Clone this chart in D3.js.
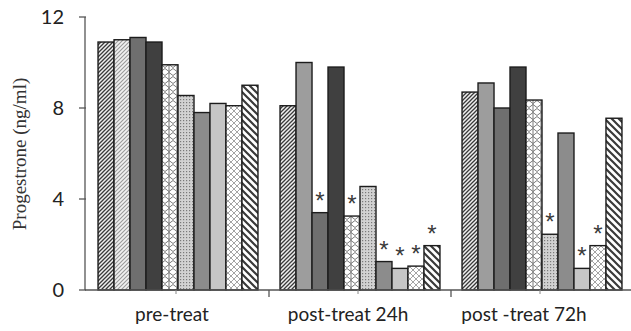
<!DOCTYPE html>
<html><head><meta charset="utf-8">
<script src="https://cdn.jsdelivr.net/npm/d3@7/dist/d3.min.js"></script>
<style>body{margin:0;background:#fff}svg{display:block}</style>
</head><body>
<script>
const groups = ["pre-treat", "post-treat 24h", "post -treat 72h"];
const seriesNames = ["S1","S2","S3","S4","S5","S6","S7","S8","S9","S10"];
const valuesPre  = [10.9, 11.0, 11.1, 10.9, 9.9, 8.55, 7.8, 8.2, 8.1, 9.0];
const values24h  = [8.1, 10.0, 3.4, 9.8, 3.25, 4.55, 1.25, 0.95, 1.05, 1.95];
const values72h  = [8.7, 9.1, 8.0, 9.8, 8.35, 2.45, 6.9, 0.95, 1.95, 7.55];
const sig24h = [false,false,true,false,true,false,true,true,true,true];
const sig72h = [false,false,false,false,false,true,false,true,true,false];
const sigPre = [false,false,false,false,false,false,false,false,false,false];
const yTicks = [0, 4, 8, 12];

const allValues = [valuesPre, values24h, values72h];
const allSig = [sigPre, sig24h, sig72h];

const W = 631, H = 331;
const svg = d3.select("body").append("svg").attr("width", W).attr("height", H);
const defs = svg.append("defs");

function pat(id, w, h, bg, draw){
  const p = defs.append("pattern").attr("id", id).attr("patternUnits","userSpaceOnUse")
    .attr("width", w).attr("height", h);
  p.append("rect").attr("width", w).attr("height", h).attr("fill", bg);
  draw(p);
}
pat("p1", 4, 4, "#f0f0f0", p => {
  p.append("path").attr("d","M-1,1 L1,-1 M0,4 L4,0 M3,5 L5,3").attr("stroke","#3a3a3a").attr("stroke-width",1.3);
});
pat("p2", 4, 4, "#f2f2f2", p => {
  p.append("path").attr("d","M-1,1 L1,-1 M0,4 L4,0 M3,5 L5,3").attr("stroke","#9a9a9a").attr("stroke-width",1.1);
});
pat("p5", 8, 8, "#ffffff", p => {
  p.append("path").attr("d","M0,2 Q2,-1 4,2 T8,2 M0,6 Q2,9 4,6 T8,6 M2,0 L2,8")
    .attr("fill","none").attr("stroke","#6a6a6a").attr("stroke-width",0.9);
});
pat("p6", 3, 3, "#d2d2d2", p => {
  p.append("rect").attr("width",1.2).attr("height",1.2).attr("fill","#7a7a7a");
});
pat("p9", 6, 6, "#ffffff", p => {
  p.append("path").attr("d","M0,0 L6,6 M6,0 L0,6 M-1,5 L1,7 M5,-1 L7,1 M-1,1 L1,-1 M5,7 L7,5")
    .attr("stroke","#9a9a9a").attr("stroke-width",0.9);
});
pat("p10", 7, 7, "#ffffff", p => {
  p.append("path").attr("d","M-1,-1 L8,8 M-1,6 L1,8 M6,-1 L8,1").attr("stroke","#3a3a3a").attr("stroke-width",2.2);
});

const fills = ["url(#p1)","url(#p2)","#6f6f6f","#404040","url(#p5)","url(#p6)","#8c8c8c","#c6c6c6","url(#p9)","url(#p10)"];
function fillFor(gi, si){
  if (si === 1 && gi > 0) return "#9d9d9d";
  return fills[si];
}

const y = d3.scaleLinear().domain([0, 12]).range([290, 17]);
const x0 = d3.scaleBand().domain(groups).range([87, 633]).padding(0);
const x1 = d3.scaleBand().domain(seriesNames).range([0, x0.bandwidth()]).paddingInner(0).paddingOuter(0.69);
const xLab = d3.scaleBand().domain(groups).range([84, 612]);

// bars
groups.forEach((g, gi) => {
  const gg = svg.append("g").attr("transform", `translate(${x0(g)},0)`);
  const data = allValues[gi].map((v, si) => ({v, si, sig: allSig[gi][si]}));
  gg.selectAll("rect").data(data).join("rect")
    .attr("x", d => x1(seriesNames[d.si]))
    .attr("y", d => y(d.v))
    .attr("width", x1.bandwidth())
    .attr("height", d => y(0) - y(d.v))
    .attr("fill", d => fillFor(gi, d.si))
    .attr("stroke", "#1c1c1c").attr("stroke-width", 1.4);
  gg.selectAll("text.star").data(data.filter(d => d.sig)).join("text")
    .attr("class","star")
    .attr("x", d => x1(seriesNames[d.si]) + x1.bandwidth()/2)
    .attr("y", d => y(d.v) - 4)
    .attr("text-anchor","middle")
    .attr("font-family","Liberation Sans, sans-serif")
    .attr("font-size", 24)
    .attr("fill","#3a3a3a")
    .text("*");
});

// y axis
svg.append("line").attr("x1",85).attr("x2",85).attr("y1",y(12)).attr("y2",y(0))
  .attr("stroke","#555").attr("stroke-width",1.3);
svg.selectAll("line.yt").data(yTicks).join("line").attr("class","yt")
  .attr("x1",79).attr("x2",86).attr("y1",d=>y(d)).attr("y2",d=>y(d))
  .attr("stroke","#555").attr("stroke-width",1.3);
svg.selectAll("text.yl").data(yTicks).join("text").attr("class","yl")
  .attr("x",64).attr("y",d=>y(d)).attr("dy","0.36em")
  .attr("text-anchor","end").attr("font-family","Lato, sans-serif").attr("font-size",20)
  .attr("fill","#222").text(d=>d);

// x axis
svg.append("line").attr("x1",85).attr("x2",631).attr("y1",y(0)).attr("y2",y(0))
  .attr("stroke","#555").attr("stroke-width",1.3);
const bounds = groups.slice(1).map(g => x0(g));
svg.selectAll("line.xt").data(bounds).join("line").attr("class","xt")
  .attr("x1",d=>d).attr("x2",d=>d).attr("y1",y(0)).attr("y2",y(0)+7)
  .attr("stroke","#555").attr("stroke-width",1.3);
svg.selectAll("line.xc").data(groups).join("line").attr("class","xc")
  .attr("x1",d=>x0(d)+x0.bandwidth()/2-2).attr("x2",d=>x0(d)+x0.bandwidth()/2-2)
  .attr("y1",y(0)).attr("y2",y(0)+4)
  .attr("stroke","#888").attr("stroke-width",1);
svg.selectAll("text.xl").data(groups).join("text").attr("class","xl")
  .attr("x",d=>xLab(d)+xLab.bandwidth()/2).attr("y",321)
  .attr("text-anchor","middle").attr("font-family","Lato, sans-serif").attr("font-size",19)
  .attr("fill","#222").text(d=>d);

// y label
svg.append("text").attr("transform","translate(26,154) rotate(-90)")
  .attr("text-anchor","middle").attr("font-family","Liberation Serif, serif").attr("font-size",19)
  .attr("fill","#333").text("Progestrone (ng/ml)");
</script>
</body></html>
